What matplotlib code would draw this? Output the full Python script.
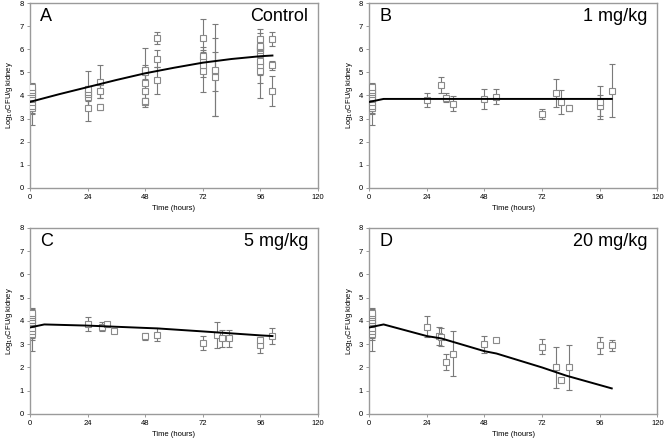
import matplotlib
matplotlib.use("Agg")
import matplotlib.pyplot as plt

plt.rcParams['font.family'] = ['Liberation Sans', 'DejaVu Sans']

# baseline group at time 0 (same animals shown on every panel)
base_t = [1, 1, 1, 1, 1, 1, 1, 1, 1]
base_y = [3.45, 3.55, 3.7, 3.85, 3.95, 4.05, 4.15, 4.25, 4.35]
base_sd = [0.75, 0.3, 0.5, 0.3, 0.2, 0.3, 0.2, 0.25, 0.2]

# A: control
a_t = [24, 24, 24, 24, 24, 29, 29, 29, 48, 48, 48, 48, 48, 48, 53, 53, 53,
       72, 72, 72, 72, 72, 77, 77, 77, 96, 96, 96, 96, 96, 96, 96, 96, 96,
       101, 101, 101]
a_y = [3.45, 3.95, 4.05, 4.15, 4.3, 3.5, 4.2, 4.6, 3.7, 3.75, 4.2, 4.55, 5.0, 5.1,
       4.65, 5.6, 6.5, 5.05, 5.3, 5.6, 5.7, 6.5, 4.8, 5.05, 5.1,
       5.05, 5.3, 5.5, 5.8, 5.95, 6.05, 6.1, 6.15, 6.45, 4.2, 5.3, 6.45]
a_sd = [0.55, 0.4, 0.3, 0.25, 0.75, 0.15, 0.3, 0.7, 0.2, 0.15, 0.4, 0.5, 0.3, 0.95,
        0.6, 0.35, 0.25, 0.9, 0.5, 0.3, 0.4, 0.8, 1.7, 0.85, 2.0,
        0.5, 1.4, 0.6, 0.5, 0.4, 0.3, 0.4, 0.3, 0.45, 0.65, 0.2, 0.3]
a_fit_t = [0, 12, 24, 36, 48, 60, 72, 84, 96, 101]
a_fit_y = [3.72, 4.05, 4.36, 4.67, 4.96, 5.2, 5.42, 5.58, 5.7, 5.73]

# B: 1 mg/kg
b_t = [24, 30, 32, 35, 48, 53, 72, 78, 80, 83, 96, 96, 101]
b_y = [3.8, 4.45, 3.9, 3.65, 3.85, 3.95, 3.2, 4.1, 3.7, 3.45, 3.55, 3.7, 4.2]
b_sd = [0.3, 0.35, 0.2, 0.32, 0.42, 0.33, 0.22, 0.6, 0.52, 0.12, 0.45, 0.7, 1.15]
b_fit_t = [0, 6, 24, 48, 72, 96, 101]
b_fit_y = [3.72, 3.85, 3.85, 3.85, 3.85, 3.85, 3.85]

# C: 5 mg/kg
c_t = [24, 30, 32, 35, 48, 53, 72, 78, 80, 83, 96, 96, 101]
c_y = [3.85, 3.75, 3.85, 3.55, 3.35, 3.4, 3.05, 3.4, 3.25, 3.25, 2.95, 3.2, 3.35]
c_sd = [0.3, 0.2, 0.1, 0.05, 0.15, 0.28, 0.3, 0.57, 0.35, 0.35, 0.32, 0.1, 0.35]
c_fit_t = [0, 6, 24, 48, 53, 72, 96, 101]
c_fit_y = [3.72, 3.85, 3.8, 3.7, 3.68, 3.55, 3.38, 3.35]

# D: 20 mg/kg
d_t = [24, 29, 30, 32, 35, 48, 53, 72, 78, 80, 83, 96, 101]
d_y = [3.75, 3.35, 3.3, 2.25, 2.6, 3.0, 3.2, 2.9, 2.0, 1.45, 2.0, 2.95, 2.95]
d_sd = [0.45, 0.4, 0.38, 0.35, 0.97, 0.37, 0.0, 0.33, 0.9, 0.0, 0.97, 0.38, 0.23]
d_fit_t = [0, 6, 24, 30, 48, 53, 72, 82, 101]
d_fit_y = [3.72, 3.85, 3.35, 3.25, 2.7, 2.6, 2.0, 1.65, 1.1]

panels = [
    ("A", "Control", a_t, a_y, a_sd, a_fit_t, a_fit_y),
    ("B", "1 mg/kg", b_t, b_y, b_sd, b_fit_t, b_fit_y),
    ("C", "5 mg/kg", c_t, c_y, c_sd, c_fit_t, c_fit_y),
    ("D", "20 mg/kg", d_t, d_y, d_sd, d_fit_t, d_fit_y),
]
positions = [
    [0.045, 0.576, 0.434, 0.417],
    [0.556, 0.576, 0.434, 0.417],
    [0.045, 0.0655, 0.434, 0.42],
    [0.556, 0.0655, 0.434, 0.42],
]

fig = plt.figure(figsize=(6.64, 4.43), dpi=100)

for pos, (letter, label, t, y, sd, ft, fy) in zip(positions, panels):
    ax = fig.add_axes(pos)
    all_t = base_t + t
    all_y = base_y + y
    all_sd = base_sd + sd
    ax.errorbar(all_t, all_y, yerr=all_sd, fmt='none', ecolor='#7a7a7a',
                elinewidth=0.8, capsize=2.5, capthick=0.8, zorder=2)
    ax.plot(all_t, all_y, 's', ms=5, mfc='white', mec='#8a8a8a', mew=0.8, zorder=3)
    ax.plot(ft, fy, color='black', lw=1.4, zorder=4)

    ax.set_xlim(0, 120)
    ax.set_ylim(0, 8)
    ax.set_xticks([0, 24, 48, 72, 96, 120])
    ax.set_yticks(range(0, 9))
    for sp in ax.spines.values():
        sp.set_color('#9a9a9a')
        sp.set_linewidth(1.0)
    ax.tick_params(labelsize=5.5, length=2.5, width=0.7, color='#9a9a9a', pad=2)
    ax.set_xlabel("Time (hours)", fontsize=5.5, labelpad=3)
    ax.set_ylabel("Log$_{10}$CFU/g kidney", fontsize=5.5, labelpad=3)
    ax.text(0.035, 0.925, letter, transform=ax.transAxes, fontsize=13,
            ha='left', va='center')
    ax.text(0.965, 0.925, label, transform=ax.transAxes, fontsize=13,
            ha='right', va='center')

fig.savefig("out.png", dpi=100)
